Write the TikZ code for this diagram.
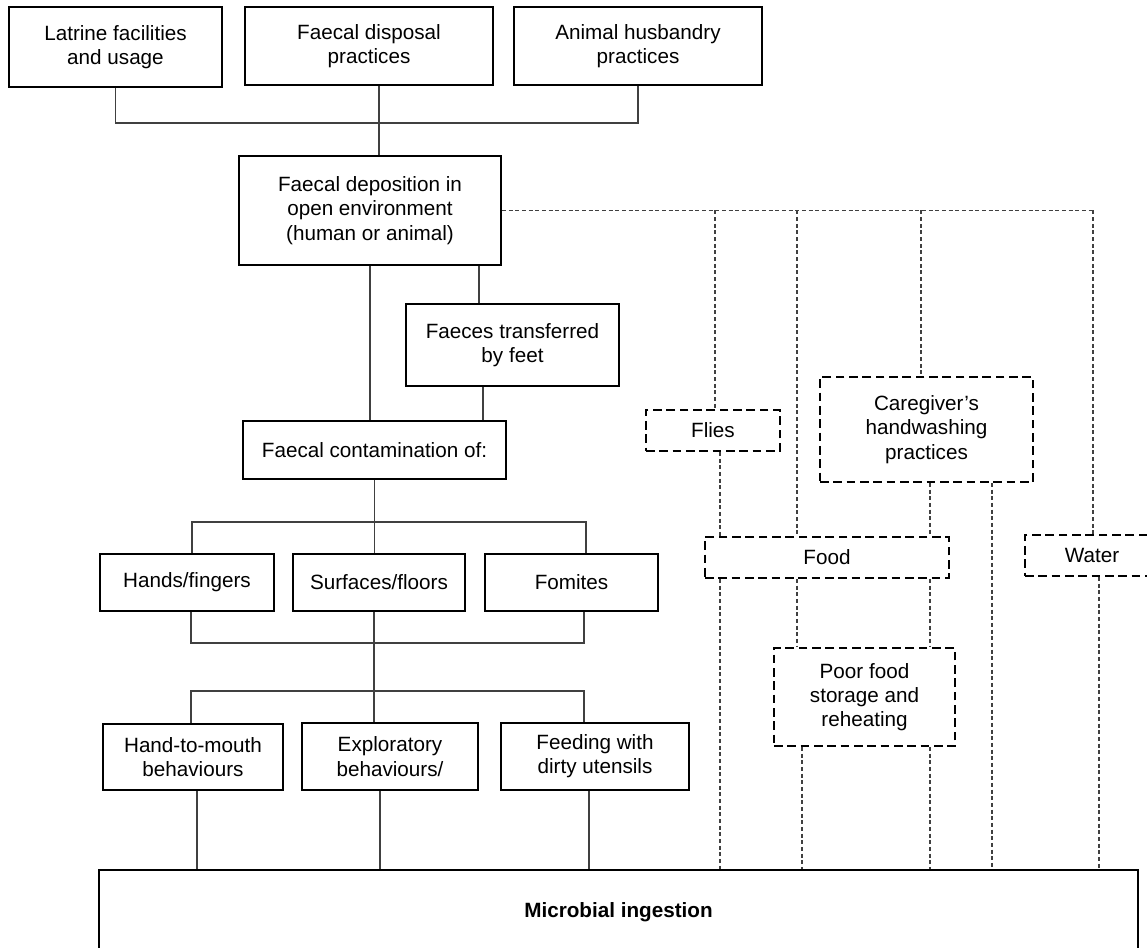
\documentclass[tikz,border=0pt]{standalone}
\usepackage{fontspec}
\setmainfont{Liberation Sans}
\tikzset{
    box/.style={draw, line width=1.4pt, align=center, inner sep=2pt, font=\fontsize{15.5}{18.2}\selectfont},
    thickbox/.style={box, line width=2.2pt},
    dbox/.style={box, dash pattern=on 6.5pt off 3.5pt},
    sz/.style 2 args={minimum width=#1*0.75pt, minimum height=#2*0.75pt},
    link/.style={black!75, line width=0.8pt},
    dlink/.style={black!75, line width=0.8pt, dash pattern=on 3pt off 2pt},
}

\begin{document}
\begin{tikzpicture}[x=0.75pt,y=-0.75pt]
		\useasboundingbox (0,0) rectangle (1147,948);
		% causes at the top
		\node[box,sz={213}{80}] (latrine) at (115.5,47) {Latrine facilities\\and usage};
		\node[box,sz={248}{78}] (disposal) at (369,46) {Faecal disposal\\practices};
		\node[box,sz={248}{78}] (animal) at (638,46) {Animal husbandry\\practices};
		\node[box,sz={262}{109}] (deposition) at (370,210.5) {Faecal deposition in\\open environment\\(human or animal)};
		\node[box,sz={213}{82}] (feet) at (512.5,345) {Faeces transferred\\by feet};
		\node[box,sz={263}{58}] (contam) at (374.5,450) {Faecal contamination of:};
		\node[box,sz={174}{57}] (hands) at (187,582.5) {Hands/fingers};
		\node[box,sz={172}{57}] (surfaces) at (379,582.5) {Surfaces/floors};
		\node[box,sz={173}{57}] (fomites) at (571.5,582.5) {Fomites};
		\node[thickbox,sz={180}{66}] (handmouth) at (193,757) {Hand-to-mouth\\behaviours};
		\node[thickbox,sz={176}{67}] (explor) at (390,756.5) {Exploratory\\behaviours/};
		\node[thickbox,sz={188}{67}] (feeding) at (595,756.5) {Feeding with\\dirty utensils};
		% dashed pathways
		\node[dbox,sz={134}{41}] (flies) at (713,430.5) {Flies};
		\node[dbox,sz={213}{105}] (caregiver) at (926.5,429.5) {Caregiver’s\\handwashing\\practices};
		\node[dbox,sz={244}{41}] (food) at (827,557.5) {Food};
		\node[dbox,sz={134}{41}] (water) at (1092,555.5) {Water};
		\node[dbox,sz={181}{98}] (poorfood) at (864.5,697) {Poor food\\storage and\\reheating};
		\node[draw,line width=1pt,sz={1039}{84},font=\fontsize{15.5}{18.2}\selectfont\bfseries] (microbial) at (618.5,912) {Microbial ingestion};

		\coordinate (topbus) at (379,123);
		\draw[link] (latrine.south) |- (topbus) -| (animal.south);
		\draw[link] (disposal.south -| topbus) -- (deposition.north -| topbus);
		\draw[link] (deposition.south) -- (deposition.south |- contam.north);
		\draw[link] (deposition.south -| 479,0) -- (feet.north -| 479,0);
		\draw[link] (feet.south -| 483,0) -- (contam.north -| 483,0);

		\coordinate (m1) at (192,522);
		\coordinate (m2) at (586,522);
		\draw[link] (hands.north -| m1) -- (m1) -- (m2) -- (fomites.north -| m2);
		\draw[link] (contam.south) -- (surfaces.north -| contam.south);

		\coordinate (l1) at (191,643);
		\coordinate (l2) at (584,643);
		\coordinate (k1) at (191,691);
		\coordinate (k2) at (584,691);
		\draw[link] (hands.south -| l1) -- (l1) -- (l2) -- (fomites.south -| l2);
		\draw[link] (surfaces.south -| 374,0) -- (explor.north -| 374,0);
		\draw[link] (handmouth.north -| k1) -- (k1) -- (k2) -- (feeding.north -| k2);
		\foreach \a/\x in {handmouth/197,explor/380,feeding/589} {
				\draw[link] (\a.south -| \x,0) -- (microbial.north -| \x,0);
			}

		\draw[dlink] (deposition.east) -- (deposition.east -| 1093,0);
		\foreach \b/\x in {flies/715,food/797,caregiver/921,water/1093} {
				\draw[dlink] (deposition.east -| \x,0) -- (\b.north -| \x,0);
			}
		\foreach \a/\b/\x in {flies/food/720,caregiver/food/930,caregiver/microbial/992,food/microbial/720,food/poorfood/797,food/poorfood/930,poorfood/microbial/802,poorfood/microbial/930,water/microbial/1099} {
				\draw[dlink] (\a.south -| \x,0) -- (\b.north -| \x,0);
			}
	\end{tikzpicture}
\end{document}
